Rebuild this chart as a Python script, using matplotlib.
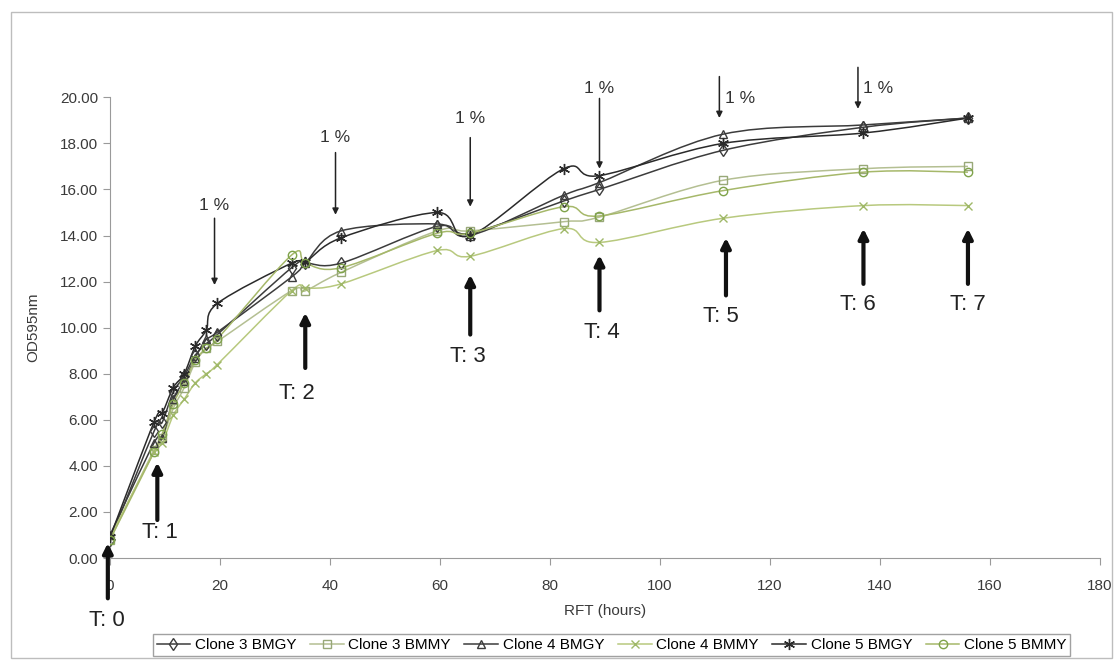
import numpy as np
import matplotlib
matplotlib.use("Agg")
import matplotlib.pyplot as plt
from matplotlib.path import Path
from matplotlib.patches import PathPatch, Rectangle
from matplotlib.lines import Line2D

plt.rcParams["font.family"] = ["Liberation Sans", "DejaVu Sans"]

# -----------------------
# Data
# -----------------------
hours = [0, 8, 9.5, 11.5, 13.5, 15.5, 17.5, 19.5, 33, 35.5, 42, 59.5, 65.5,
         82.5, 89, 111.5, 137, 156]

clone3_bmgy = [0.8, 5.5, 5.9, 7.2, 7.9, 8.8, 9.3, 9.7, 12.6, 12.8, 12.8, 14.4,
               14.1, 15.5, 16.0, 17.7, 18.7, 19.1]
clone3_bmmy = [0.8, 4.7, 5.2, 6.5, 7.4, 8.5, 9.1, 9.4, 11.6, 11.6, 12.4, 14.2,
               14.2, 14.6, 14.8, 16.4, 16.9, 17.0]
clone4_bmgy = [1.0, 5.0, 5.2, 6.9, 7.7, 8.7, 9.5, 9.8, 12.2, 12.8, 14.2, 14.5,
               14.0, 15.75, 16.3, 18.4, 18.8, 19.1]
clone4_bmmy = [0.9, 4.6, 5.0, 6.2, 6.9, 7.6, 8.0, 8.4, 11.6, 11.7, 11.9, 13.35,
               13.1, 14.3, 13.7, 14.75, 15.3, 15.3]
clone5_bmgy = [0.9, 5.9, 6.3, 7.4, 8.0, 9.2, 9.9, 11.05, 12.8, 12.85, 13.9,
               15.0, 14.0, 16.9, 16.6, 18.0, 18.45, 19.1]
clone5_bmmy = [0.8, 4.6, 5.4, 6.7, 7.6, 8.6, 9.1, 9.5, 13.15, 12.8, 12.6, 14.1,
               14.1, 15.25, 14.85, 15.95, 16.75, 16.75]

series = [
    ("Clone 3 BMGY", clone3_bmgy),
    ("Clone 3 BMMY", clone3_bmmy),
    ("Clone 4 BMGY", clone4_bmgy),
    ("Clone 4 BMMY", clone4_bmmy),
    ("Clone 5 BMGY", clone5_bmgy),
    ("Clone 5 BMMY", clone5_bmmy),
]

# feeding ("1 %") and sampling ("T: n") annotations
feed_hours = [19, 41, 65.5, 89, 110.8, 136]
feed_text_y = [15.3, 18.25, 19.1, 20.4, 19.95, 20.4]
feed_arrow = [(14.75, 11.85), (17.6, 14.9), (18.25, 15.25), (19.95, 16.9),
              (20.9, 19.1), (21.3, 19.5)]

sample_hours = [-0.4, 8.6, 35.5, 65.5, 89, 112, 137, 156]
sample_labels = ["T: 0", "T: 1", "T: 2", "T: 3", "T: 4", "T: 5", "T: 6", "T: 7"]
samp_arrow = [(-1.75, 0.65), (1.65, 4.15), (8.25, 10.65), (9.7, 12.3),
              (10.75, 13.15), (11.4, 13.9), (11.9, 14.3), (11.9, 14.3)]
samp_text = [(-0.5, -2.7), (9, 1.1), (34, 7.15), (65, 8.75), (89.5, 9.8),
             (111, 10.5), (136, 11.0), (156, 11.0)]

# -----------------------
# Styles
# -----------------------
styles = {
    "Clone 3 BMGY": dict(color="#3c3c3c", mec="#3c3c3c", marker="d", ms=6),
    "Clone 3 BMMY": dict(color="#b4bf92", mec="#98a878", marker="s", ms=6),
    "Clone 4 BMGY": dict(color="#3c3c3c", mec="#3c3c3c", marker="^", ms=6),
    "Clone 4 BMMY": dict(color="#b8c97e", mec="#9fb868", marker="x", ms=6),
    "Clone 5 BMGY": dict(color="#2a2a2a", mec="#2a2a2a", marker=(6, 2, 0), ms=8),
    "Clone 5 BMMY": dict(color="#a6b86a", mec="#7fa34a", marker="o", ms=6),
}


def smooth_path(xs, ys):
    # Catmull-Rom through the points, as cubic Bezier segments (Excel-like smoothing)
    pts = np.column_stack([np.asarray(xs, float), np.asarray(ys, float)])
    verts = [pts[0]]
    codes = [Path.MOVETO]
    n = len(pts)
    for i in range(n - 1):
        p0 = pts[i - 1] if i > 0 else pts[i]
        p1 = pts[i]
        p2 = pts[i + 1]
        p3 = pts[i + 2] if i + 2 < n else pts[i + 1]
        verts += [p1 + (p2 - p0) / 6.0, p2 - (p3 - p1) / 6.0, p2]
        codes += [Path.CURVE4] * 3
    return Path(verts, codes)


# -----------------------
# Plot
# -----------------------
fig = plt.figure(figsize=(11.16, 6.61), dpi=100)
fig.patch.set_facecolor("white")
ax = fig.add_axes([0.0986, 0.1558, 0.887, 0.697])

for name, vals in series:
    st = styles[name]
    ax.add_patch(PathPatch(smooth_path(hours, vals), fill=False,
                           edgecolor=st["color"], lw=1.1, zorder=2))
    ax.plot(hours, vals, ls="none", marker=st["marker"], ms=st["ms"],
            mfc="none", mec=st["mec"], mew=1.0, zorder=3)

ax.set_xlim(0, 180)
ax.set_ylim(0, 20)
ax.set_xticks(np.arange(0, 181, 20))
yticks = np.arange(0, 20.1, 2)
ax.set_yticks(yticks)
ax.set_yticklabels([f"{v:.2f}" for v in yticks])
for side in ["top", "right"]:
    ax.spines[side].set_visible(False)
for side in ["left", "bottom"]:
    ax.spines[side].set_color("#9a9a9a")
ax.tick_params(axis="both", colors="#9a9a9a", labelcolor="#3a3a3a",
               labelsize=11, length=5, direction="out")
ax.tick_params(axis="x", pad=10)
ax.set_xlabel("RFT (hours)", fontsize=11, color="#3a3a3a", labelpad=8)
ax.set_ylabel("OD595nm", fontsize=11, color="#3a3a3a", labelpad=14)

for i, h in enumerate(feed_hours):
    y0, y1 = feed_arrow[i]
    ax.annotate("", xy=(h, y1), xytext=(h, y0), annotation_clip=False,
                arrowprops=dict(arrowstyle="-|>", color="#222222", lw=1.1,
                                mutation_scale=9, shrinkA=0, shrinkB=0))
    if i < 4:
        ax.text(h, feed_text_y[i], "1 %", ha="center", va="center",
                fontsize=12.5, color="#333333", clip_on=False)
    else:
        ax.text(h + 1.0, feed_text_y[i], "1 %", ha="left", va="center",
                fontsize=12.5, color="#333333", clip_on=False)

for i, h in enumerate(sample_hours):
    y0, y1 = samp_arrow[i]
    ax.annotate("", xy=(h, y1), xytext=(h, y0), annotation_clip=False,
                arrowprops=dict(arrowstyle="-|>", color="#111111", lw=3,
                                mutation_scale=14, shrinkA=0, shrinkB=0),
                zorder=5)
    tx, ty = samp_text[i]
    ax.text(tx, ty, sample_labels[i], ha="center", va="center",
            fontsize=16, color="#222222", clip_on=False)

# legend
handles = []
for name, vals in series:
    st = styles[name]
    handles.append(Line2D([0], [0], color=st["color"], lw=1.1,
                          marker=st["marker"], ms=st["ms"], mfc="none",
                          mec=st["mec"]))
leg = fig.legend(handles, [n for n, _ in series], loc="center",
                 bbox_to_anchor=(0.548, 0.024), ncol=6, fontsize=11,
                 handlelength=2.2, handletextpad=0.3, columnspacing=0.9,
                 frameon=True, fancybox=False, borderpad=0.25)
leg.get_frame().set_edgecolor("#8a8a8a")
leg.get_frame().set_linewidth(1.0)

# outer chart border
fig.add_artist(Rectangle((0.010, 0.004), 0.986, 0.978, transform=fig.transFigure,
                         fill=False, edgecolor="#bdbdbd", lw=1.0))

fig.savefig("out.png", dpi=100)
